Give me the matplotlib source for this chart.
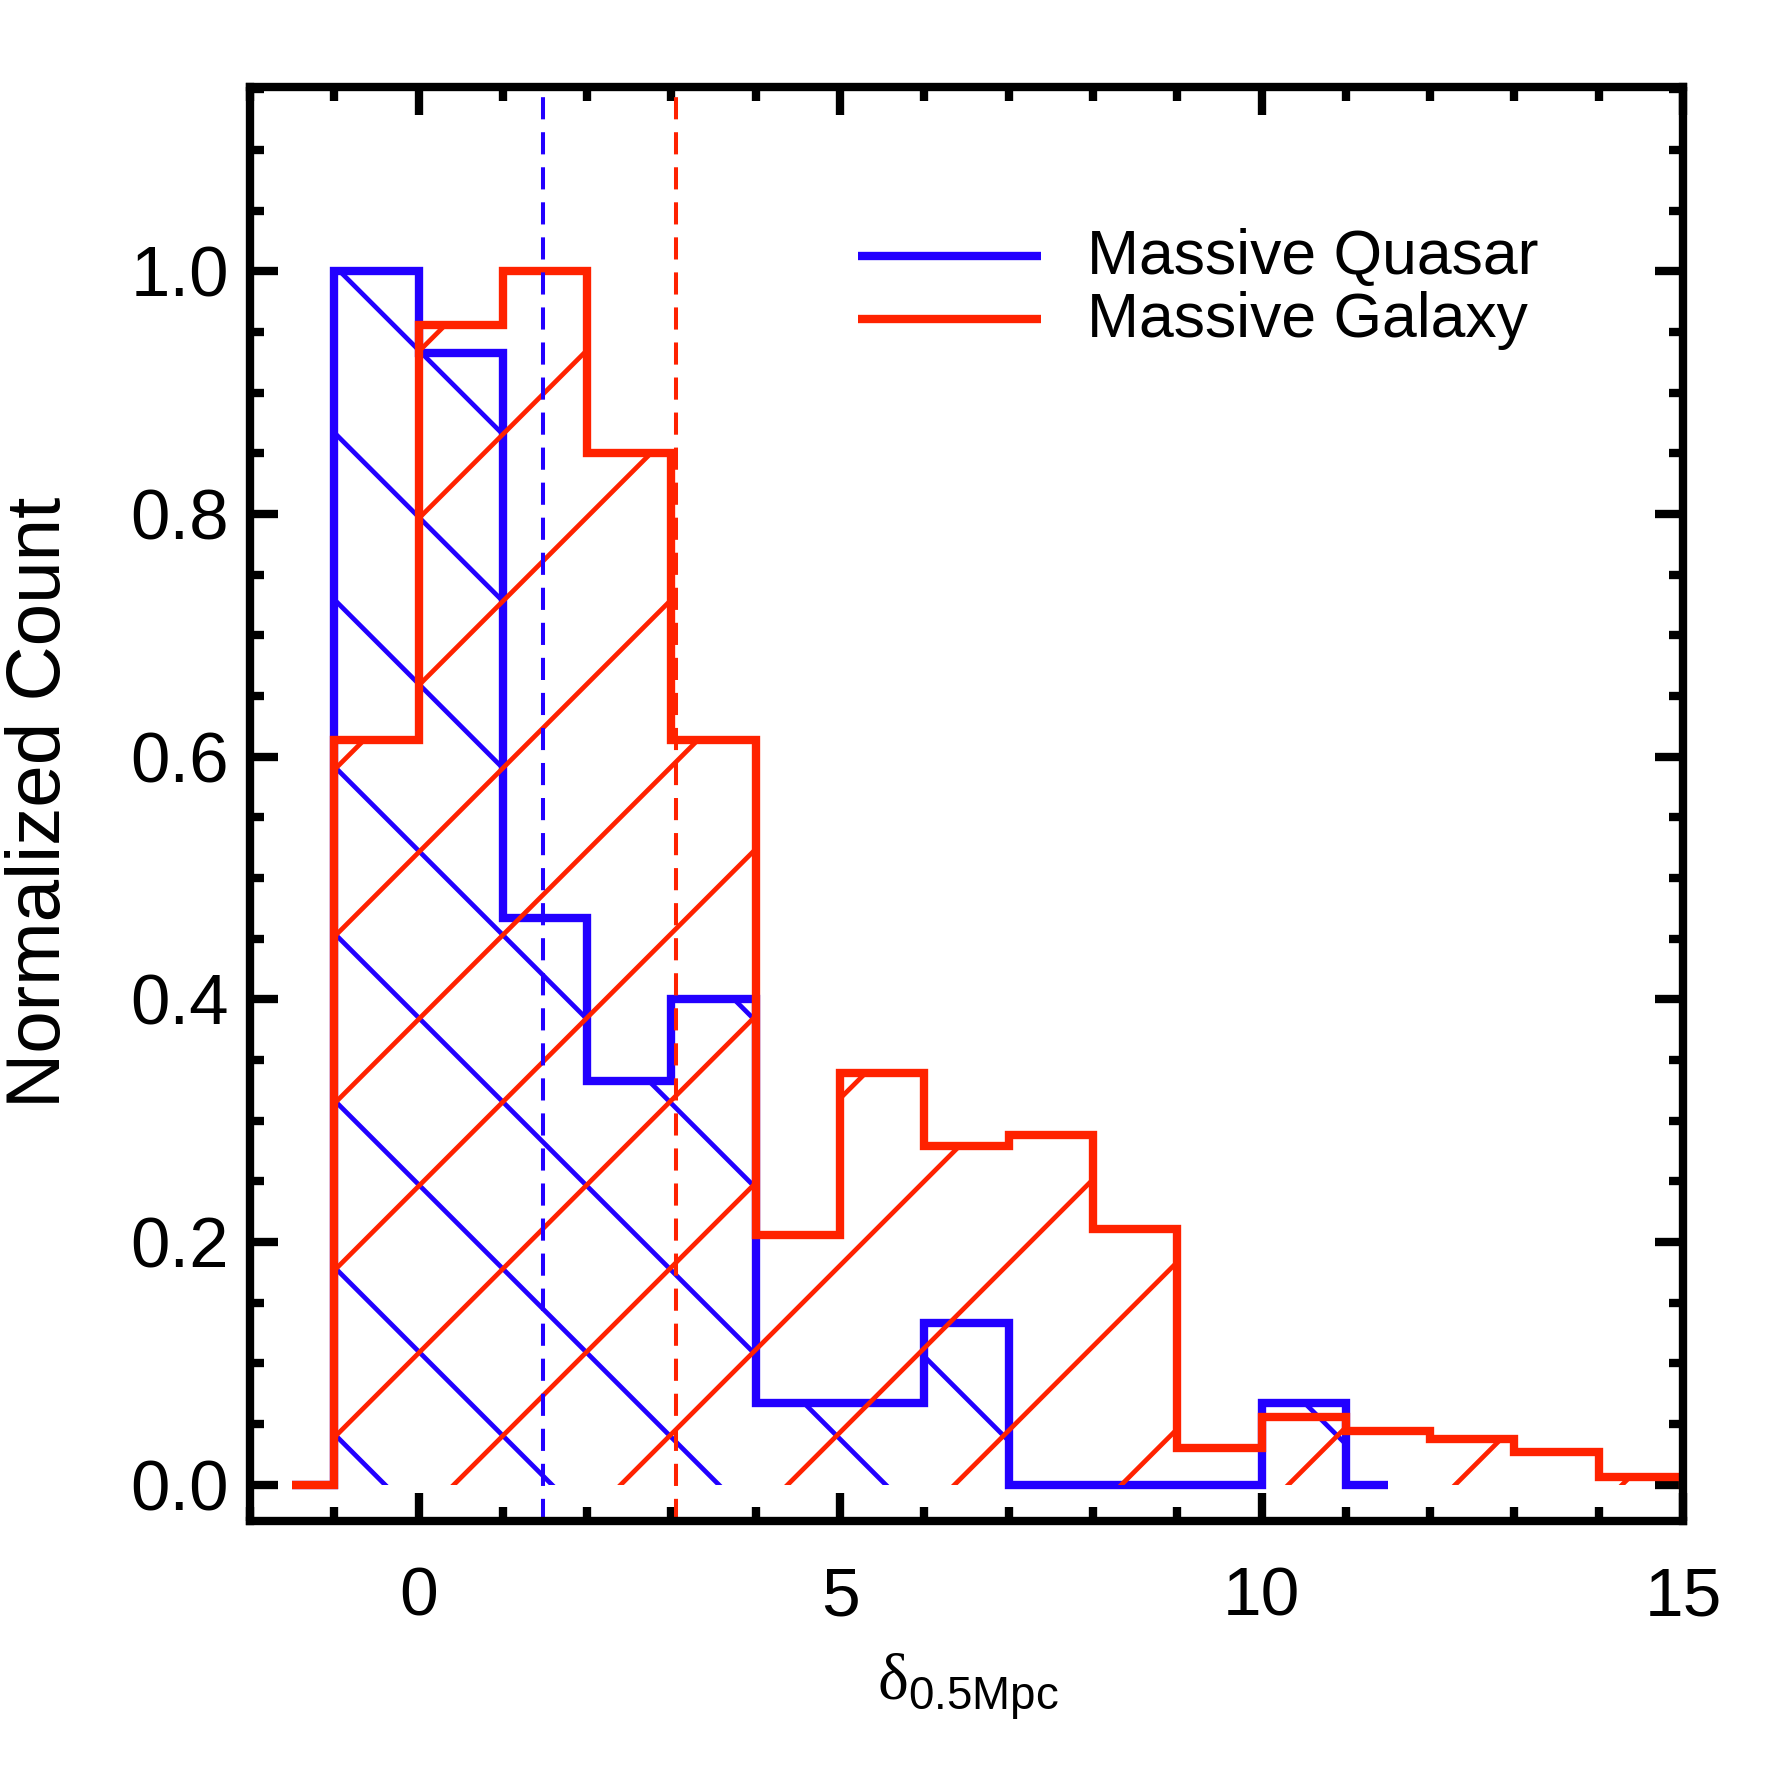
import numpy as np
import matplotlib
matplotlib.use("Agg")
import matplotlib.pyplot as plt
from matplotlib.ticker import MultipleLocator, FormatStrFormatter

# ---------------- data ----------------
bin_left_quasar = np.arange(-1, 11)            # bins [-1,0] ... [10,11]
quasar_counts = [1.0, 0.933, 0.467, 0.333, 0.400, 0.067, 0.067, 0.133,
                 0.0, 0.0, 0.0, 0.067]
bin_left_galaxy = np.arange(-1, 15)            # bins [-1,0] ... [14,15]
galaxy_counts = [0.614, 0.956, 1.0, 0.850, 0.614, 0.206, 0.339, 0.279,
                 0.288, 0.211, 0.030, 0.056, 0.044, 0.038, 0.027, 0.0065]
median_quasar = 1.48
median_galaxy = 3.05
labels = ["Massive Quasar", "Massive Galaxy"]
xticks = [0, 5, 10, 15]
yticks = [0.0, 0.2, 0.4, 0.6, 0.8, 1.0]

BLUE = "#2200ff"
RED = "#ff2200"
FONT = "Liberation Sans"
plt.rcParams["font.family"] = [FONT, "DejaVu Sans"]
plt.rcParams["mathtext.fontset"] = "custom"
plt.rcParams["mathtext.rm"] = FONT
plt.rcParams["mathtext.cal"] = "Liberation Serif"

W = 1771
fig = plt.figure(figsize=(W / 100, W / 100), dpi=100)
ax = fig.add_axes([250 / W, 1 - 1521 / W, 1433 / W, 1434 / W])
ax.set_xlim(-2, 15)
ax.set_ylim(-0.03, 1.152)


def step_arrays(left, vals):
    left = np.asarray(left, float)
    edges = np.r_[left[0] - 0.5, left, left[-1] + 1, left[-1] + 1.5]
    v = np.r_[0.0, vals, 0.0]
    return edges, v


def hatch(ax, edges, vals, color, sign, c0, spacing, lw, z):
    clip = ax.stairs(vals, edges, fill=True, baseline=0,
                     facecolor="none", edgecolor="none")
    # pixel aspect so that hatch lines are at 45 degrees on screen
    p0 = ax.transData.transform((0, 0))
    p1 = ax.transData.transform((1, 1))
    k = (p1[0] - p0[0]) / (p1[1] - p0[1])
    xs = np.array([-20.0, 40.0])
    segs_x, segs_y = [], []
    for n in range(-20, 21):
        c = c0 + n * spacing
        segs_x += [xs[0], xs[1], np.nan]
        segs_y += [sign * (xs[0] - c) * k, sign * (xs[1] - c) * k, np.nan]
    ln, = ax.plot(segs_x, segs_y, color=color, lw=lw, zorder=z,
                  solid_capstyle="butt")
    ln.set_clip_path(clip)


eq, vq = step_arrays(bin_left_quasar, quasar_counts)
eg, vg = step_arrays(bin_left_galaxy, galaxy_counts)

ax.stairs(vq, eq, baseline=None, color=BLUE, lw=6, zorder=2)
hatch(ax, eq, vq, BLUE, -1, -0.40, 1.98, 3.4, 2.5)
ax.stairs(vg, eg, baseline=None, color=RED, lw=6, zorder=3)
hatch(ax, eg, vg, RED, +1, 0.42, 1.98, 3.4, 3.5)

ax.axvline(median_quasar, color=BLUE, lw=2.9, dashes=(5.5, 3.2), zorder=4)
ax.axvline(median_galaxy, color=RED, lw=2.9, dashes=(5.5, 3.2), zorder=4)

# legend (manual, IDL style)
for i, (lab, col) in enumerate(zip(labels, [BLUE, RED])):
    yl = 0.882 - i * 0.0435
    ax.plot([0.424, 0.552], [yl, yl], transform=ax.transAxes, color=col,
            lw=6, solid_capstyle="butt", zorder=5)
    ax.text(0.584, 0.8696 - i * 0.0436, lab, transform=ax.transAxes,
            fontsize=45, va="baseline", ha="left", color="black")

# axes styling
for s in ax.spines.values():
    s.set_linewidth(6)
    s.set_zorder(6)
ax.set_xticks(xticks)
ax.set_yticks(yticks)
ax.xaxis.set_minor_locator(MultipleLocator(1))
ax.yaxis.set_minor_locator(MultipleLocator(0.05))
ax.yaxis.set_major_formatter(FormatStrFormatter("%.1f"))
ax.tick_params(which="both", direction="in", top=True, right=True, width=6)
ax.tick_params(which="major", length=20)
ax.tick_params(which="minor", length=10)
ax.tick_params(axis="x", which="major", pad=32, labelsize=50)
ax.tick_params(axis="y", which="major", pad=15, labelsize=51)

fig.text(41 / W, 0.547, "Normalized Count", rotation=90, ha="center",
         va="center", fontsize=55)
fig.text(968 / W, 1 - 1700 / W, r"$\mathcal{\delta}_{\mathrm{0.5Mpc}}$",
         ha="center", va="baseline", fontsize=47)

fig.savefig("out.png", dpi=100)
